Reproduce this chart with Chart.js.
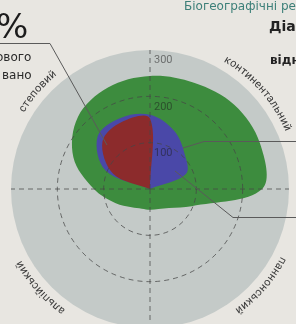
<!DOCTYPE html>
<html>
<head>
<meta charset="utf-8">
<script src="https://cdn.jsdelivr.net/npm/chart.js@4"></script>
<style>
  html, body { margin: 0; padding: 0; background: #e8e6e1; overflow: hidden; }
  #wrap { position: relative; width: 296px; height: 340px; }
</style>
</head>
<body>
<div id="wrap"><canvas id="myChart"></canvas></div>
<script>
// 16 directions, clockwise from the top; region names sit on the diagonals
const axisLabels = ['', '', 'континентальний', '', '', '', 'паннонський', '', '', '', 'альпійський', '', '', '', 'степовий', ''];
const tickValues = [100, 200, 300];

const greenValues = [244, 248, 257, 257, 242, 97, 58, 47, 45, 46, 56, 80, 121, 179, 220, 237];
const blueValues = [160, 136, 106, 84, 0, 0, 0, 0, 0, 0, 0, 0, 0, 104, 160, 166];
const redValues = [152, 0, 0, 0, 0, 0, 0, 0, 0, 0, 0, 0, 0, 86, 145, 157];

const gridColor = 'rgba(70, 70, 70, 0.75)';
// small angular nudges (degrees) for the rim captions
const captionShift = { 2: 3.5, 6: -4, 10: 3, 14: -4 };

function drawArcText(ctx, text, cx, cy, R, angle, spacing) {
    const chars = [...text];
    const widths = chars.map(ch => ctx.measureText(ch).width);
    const total = widths.reduce((a, b) => a + b, 0) + spacing * (chars.length - 1);
    let a = angle - total / 2 / R;
    chars.forEach((ch, i) => {
        const mid = a + widths[i] / 2 / R;
        ctx.save();
        ctx.translate(cx + R * Math.sin(mid), cy - R * Math.cos(mid));
        ctx.rotate(mid);
        ctx.fillText(ch, 0, 0);
        ctx.restore();
        a += (widths[i] + spacing) / R;
    });
}

const diskPlugin = {
    id: 'disk',
    beforeDatasetsDraw(chart) {
        const r = chart.scales.r;
        const ctx = chart.ctx;
        ctx.save();
        ctx.beginPath();
        ctx.arc(r.xCenter, r.yCenter, r.drawingArea, 0, Math.PI * 2);
        ctx.fillStyle = '#c4cac8';
        ctx.fill();
        ctx.restore();
    }
};

const decorPlugin = {
    id: 'decor',
    afterDraw(chart) {
        const r = chart.scales.r;
        const ctx = chart.ctx;
        const cx = r.xCenter, cy = r.yCenter;
        ctx.save();

        // tick labels just inside each ring, right of the vertical axis
        ctx.font = '11px Roboto';
        ctx.fillStyle = 'rgba(30, 30, 30, 0.55)';
        ctx.textAlign = 'left';
        ctx.textBaseline = 'top';
        tickValues.forEach(v => {
            const d = r.getDistanceFromCenterForValue(v);
            ctx.fillText(String(v), cx + 4, cy - d + 5);
        });

        // region names bent along the rim
        ctx.font = '11px Roboto';
        ctx.fillStyle = '#3a3a3a';
        ctx.textAlign = 'center';
        ctx.textBaseline = 'middle';
        axisLabels.forEach((lab, i) => {
            if (!lab) return;
            const ang = r.getIndexAngle(i) + (captionShift[i] || 0) * Math.PI / 180;
            drawArcText(ctx, lab, cx, cy, r.drawingArea + 11, ang, 0.4);
        });

        // leader lines
        ctx.strokeStyle = '#5a5a5a';
        ctx.lineWidth = 1;
        ctx.beginPath();
        ctx.moveTo(0, 43.5); ctx.lineTo(50, 43.5); ctx.lineTo(cx - 43, cy - 44);
        ctx.moveTo(cx + 33, cy - 41); ctx.lineTo(cx + 54, cy - 47.5); ctx.lineTo(296, cy - 47.5);
        ctx.moveTo(cx + 25, cy - 18); ctx.lineTo(cx + 83, cy + 28.5); ctx.lineTo(296, cy + 28.5);
        ctx.stroke();

        // text fragments around the chart
        ctx.textAlign = 'left';
        ctx.textBaseline = 'alphabetic';
        ctx.fillStyle = '#1c1c1c';
        ctx.font = '34px "DejaVu Sans"';
        ctx.fillText('%', -4, 38);
        ctx.font = '12px "DejaVu Sans"';
        ctx.fillStyle = '#2a2a2a';
        ctx.fillText('ового', -4, 61);
        ctx.fillText('вано', 2, 79);
        ctx.fillStyle = '#3c7f78';
        ctx.fillText('Біогеографічні регіони', 184, 10);
        ctx.font = 'bold 14px "DejaVu Sans"';
        ctx.fillStyle = '#222';
        ctx.fillText('Діаграма', 269, 31);
        ctx.font = 'bold 12px "DejaVu Sans"';
        ctx.fillText('відносно', 270, 64);
        ctx.restore();
    }
};

const data = {
    labels: axisLabels,
    datasets: [
        { label: 'червона зона', data: redValues, backgroundColor: '#8c2b2c' },
        { label: 'синя зона', data: blueValues, backgroundColor: '#4a48a8' },
        { label: 'зелена зона', data: greenValues, backgroundColor: '#3d8c3e' }
    ]
};

const config = {
    type: 'radar',
    data: data,
    options: {
        responsive: true,
        maintainAspectRatio: false,
        animation: false,
        layout: { padding: { left: 11, right: 7, top: 50, bottom: 12 } },
        elements: {
            line: { tension: 0.35, borderWidth: 0, fill: true },
            point: { radius: 0 }
        },
        plugins: {
            legend: { display: false },
            tooltip: { enabled: false }
        },
        scales: {
            r: {
                min: 0,
                max: 300,
                ticks: { display: false, stepSize: 100 },
                pointLabels: { display: false },
                grid: {
                    z: 1,
                    circular: true,
                    lineWidth: 1,
                    color: ctx => ctx.tick && ctx.tick.value === 300 ? 'transparent' : gridColor
                },
                border: { dash: [5, 4] },
                angleLines: {
                    color: ctx => ctx.index % 4 === 0 ? gridColor : 'transparent',
                    borderDash: [5, 4]
                }
            }
        }
    },
    plugins: [diskPlugin, decorPlugin]
};

const myChart = new Chart(document.getElementById('myChart'), config);
</script>
</body>
</html>
